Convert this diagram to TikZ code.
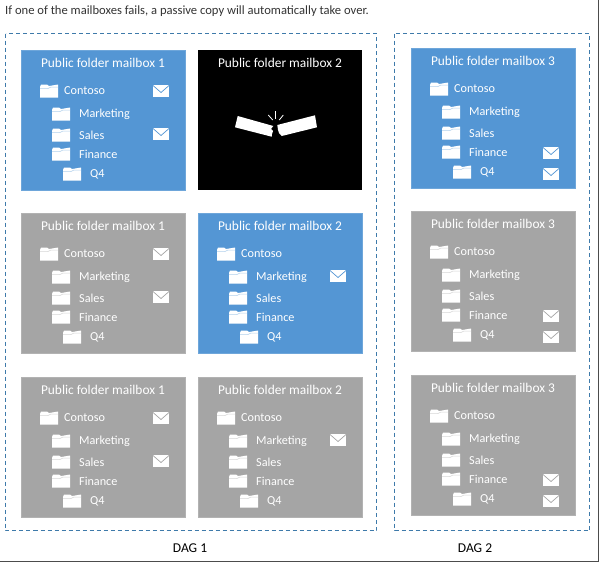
\documentclass[tikz,border=0pt]{standalone}
\usepackage{fontspec}
\setmainfont{Carlito}
\usetikzlibrary{positioning}
\definecolor{mbblue}{RGB}{84,150,212}
\definecolor{mbgray}{RGB}{165,165,165}
\definecolor{dagblue}{RGB}{62,122,170}
\tikzset{
  mbbox/.style={draw=#1!85!white, fill=#1, line width=0.6pt},
  mbtext/.style={anchor=west, inner sep=0pt, text=white, font=\fontsize{12.2}{14}\selectfont},
  mbtitle/.style={inner sep=0pt, text=white, font=\fontsize{13.4}{15}\selectfont},
  dagframe/.style={draw=dagblue, line width=1pt, dash pattern=on 4pt off 3pt},
  daglabel/.style={inner sep=0pt, text=black, font=\fontsize{13.5}{15}\selectfont}
}
% folder icon, (#1,#2) is the middle of its left edge
\newcommand{\folder}[3]{
  \fill[white] (#1,#2+6.5) -- (#1,#2-4) -- (#1+1,#2-6.5) -- (#1+7,#2-6.5) -- (#1+9,#2-5) -- (#1+18,#2-6.5) -- (#1+18,#2+6.5) -- cycle;
  \draw[#3!45!white, line width=0.5pt] (#1,#2-2.5) -- (#1+8,#2-2.5) -- (#1+11,#2-4) -- (#1+18,#2-4);
}
% envelope icon, (#1,#2) is its centre
\newcommand{\envelope}[3]{
  \fill[white] (#1-8,#2-6) rectangle (#1+8,#2+6);
  \draw[#3, line width=0.7pt] (#1-8,#2-5.5) -- (#1,#2+1.5) -- (#1+8,#2-5.5);
}
% mailbox: name, left, top, colour, number, envelope offsets
\newcommand{\mailbox}[6]{
  \begin{scope}[shift={(#2,#3)}]
    \path[mbbox=#4] (0,0) rectangle (164,140);
    \node[mbtitle] (#1t) at (82,13) {Public folder mailbox #5};
    \folder{19}{41}{#4}
    \node[mbtext] (#1c) at (43,40.5) {Contoso};
    \folder{31}{64}{#4}
    \node[mbtext] (#1m) at (58,64) {Marketing};
    \folder{31}{85}{#4}
    \node[mbtext] (#1s) at (58,85) {Sales};
    \folder{31}{104}{#4}
    \node[mbtext] (#1f) at (58,104) {Finance};
    \folder{42}{124}{#4}
    \node[mbtext] (#1q) at (69,124) {Q4};
    \foreach \ey in {#6} {
      \envelope{140}{\ey}{#4}
    }
  \end{scope}
}
\begin{document}
\begin{tikzpicture}[x=1pt, y=-1pt]
  \useasboundingbox (0,0) rectangle (599,562);
  \node[anchor=west, inner sep=0pt, text=black!80, font=\fontsize{12.6}{14}\selectfont] (intro) at (5,11)
    {If one of the mailboxes fails, a passive copy will automatically take over.};
  \draw[dagframe] (5.5,33.5) rectangle (376.5,530.5);
  \draw[dagframe] (394.5,33.5) rectangle (589.5,530.5);
  % DAG 1
  \mailbox{aa}{21}{50}{mbblue}{1}{41,84}
  \mailbox{ab}{21}{213}{mbgray}{1}{41,84}
  \mailbox{ac}{21}{377}{mbgray}{1}{41,84}
  \mailbox{bb}{198}{213}{mbblue}{2}{63}
  \mailbox{bc}{198}{377}{mbgray}{2}{63}
  % failed one
  \fill[black] (198,50) rectangle (362,190);
  \node[mbtitle] (bat) at (280,63) {Public folder mailbox 2};
  \fill[white] (237.7,116) -- (273.3,126) -- (271,129) -- (273,131) -- (272,134) -- (271.7,136.7) -- (235,127.3) -- cycle;
  \fill[white] (277.3,125) -- (315,115.3) -- (317,127.3) -- (281.7,136) -- (279,133) -- (278,130) -- cycle;
  \draw[white, line width=0.8pt] (268.3,115) -- (272.7,120);
  \draw[white, line width=0.8pt] (275.7,111) -- (275.7,118.7);
  \draw[white, line width=0.8pt] (283.3,115) -- (279.3,120);
  % DAG 2
  \mailbox{ca}{411}{48}{mbblue}{3}{105,126}
  \mailbox{cb}{411}{211}{mbgray}{3}{105,126}
  \mailbox{cc}{411}{375}{mbgray}{3}{105,126}
  \node[daglabel] (dag1) at (190,548) {DAG 1};
  \node[daglabel] (dag2) at (475,548) {DAG 2};
  % screenshot edge
  \fill[black!70] (597.5,0) rectangle (599,562);
  \fill[black!70] (0,560.5) rectangle (599,562);
\end{tikzpicture}
\end{document}
